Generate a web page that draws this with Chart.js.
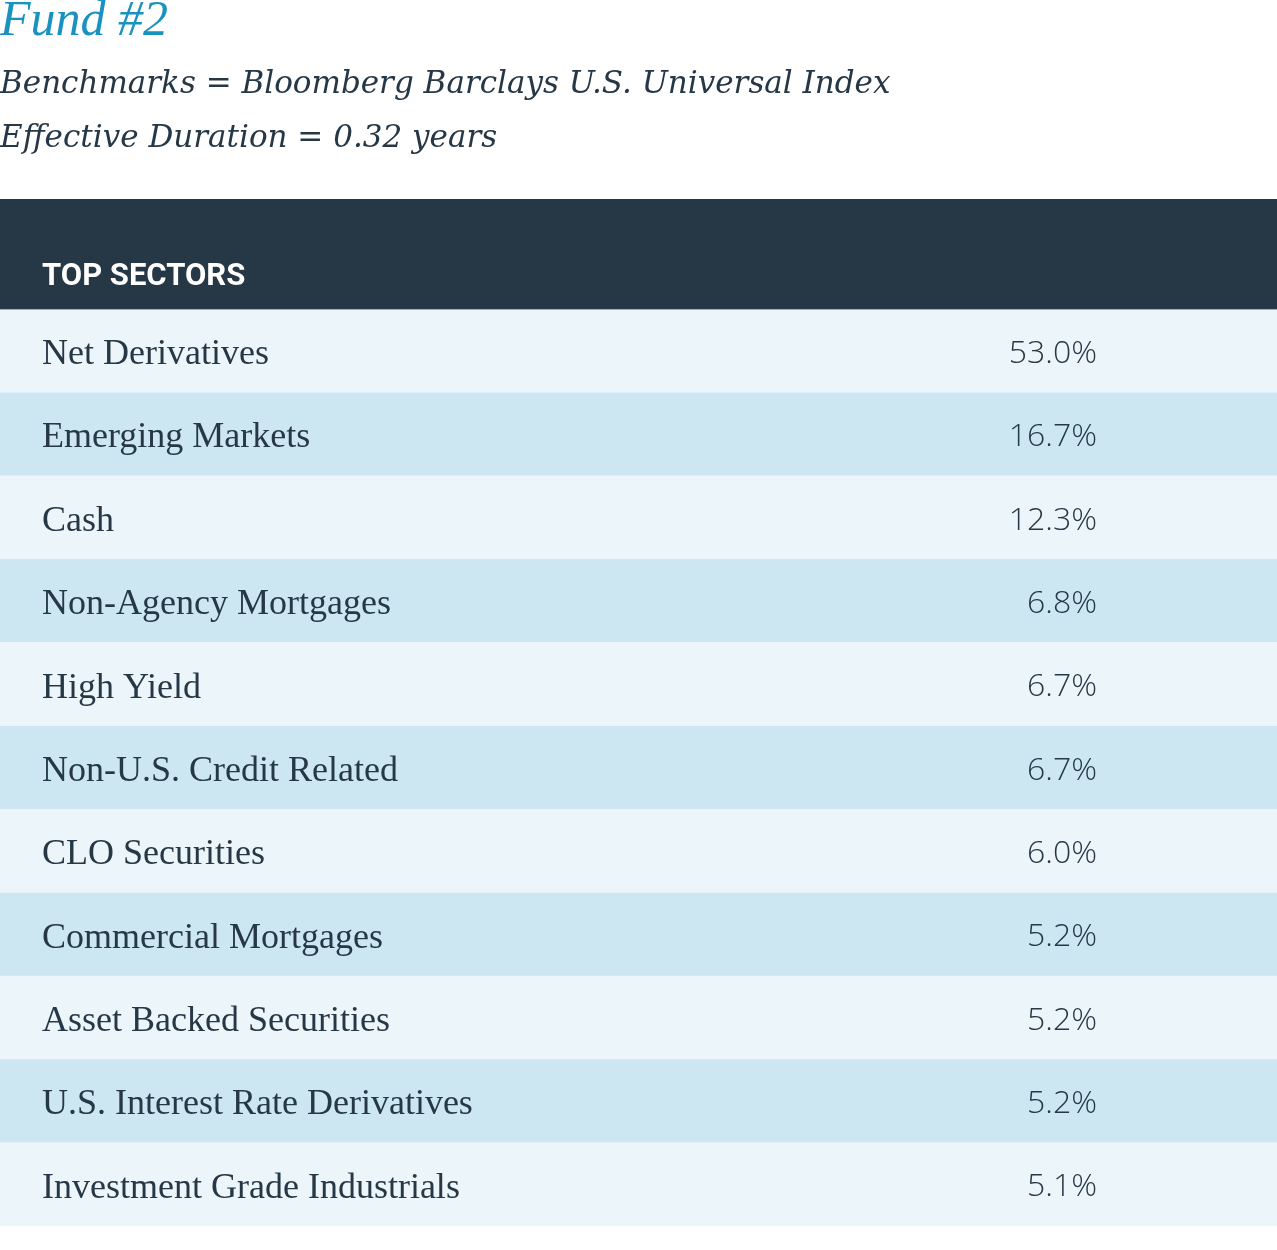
<!DOCTYPE html>
<html><head><meta charset="utf-8">
<script src="https://cdn.jsdelivr.net/npm/chart.js@4.4.1/dist/chart.umd.min.js"></script>
<style>html,body{margin:0;padding:0;background:#fff;overflow:hidden}#wrap{width:1277px;height:1250px;position:relative}</style>
</head><body><div id="wrap"><canvas id="c"></canvas></div>
<script>
const titleText = 'Fund #2';
const subtitleLines = ['Benchmarks = Bloomberg Barclays U.S. Universal Index', 'Effective Duration = 0.32 years'];
const headerText = 'TOP SECTORS';
const sectors = ['Net Derivatives','Emerging Markets','Cash','Non-Agency Mortgages','High Yield','Non-U.S. Credit Related','CLO Securities','Commercial Mortgages','Asset Backed Securities','U.S. Interest Rate Derivatives','Investment Grade Industrials'];
const weights = [53.0,16.7,12.3,6.8,6.7,6.7,6.0,5.2,5.2,5.2,5.1];
const weightLabels = weights.map(v => v.toFixed(1) + '%');

const DARK = '#263746';
const ROW_A = '#ecf5f9';
const ROW_B = '#cce7f2';
const TITLE_COLOR = '#1a92c0';

const tablePlugin = {
  id: 'tableBg',
  beforeDraw(chart) {
    const ctx = chart.ctx;
    const ys = chart.scales.y;
    const W = chart.width;
    ctx.save();
    ctx.textAlign = 'left';
    ctx.textBaseline = 'alphabetic';
    ctx.fillStyle = TITLE_COLOR;
    ctx.font = 'italic 50px "Liberation Serif"';
    ctx.fillText(titleText, 0, 35);
    ctx.fillStyle = DARK;
    ctx.font = 'italic 31px "DejaVu Serif"';
    ctx.fillText(subtitleLines[0], 0, 93);
    ctx.fillText(subtitleLines[1], 0, 147);
    const top = chart.chartArea.top;
    ctx.fillStyle = DARK;
    ctx.fillRect(0, top - 110, W, 110);
    ctx.fillStyle = '#ffffff';
    ctx.font = 'bold 31px Roboto';
    ctx.fillText(headerText, 42, top - 24);
    const h = ys.getPixelForValue(1) - ys.getPixelForValue(0);
    for (let i = 0; i < sectors.length; i++) {
      const c = ys.getPixelForValue(i);
      ctx.fillStyle = i % 2 === 0 ? ROW_A : ROW_B;
      ctx.fillRect(0, c - h / 2, W, h);
    }
    ctx.fillStyle = '#9fb0ba';
    ctx.fillRect(0, top, W, 1);
    ctx.restore();
  }
};

const noPad = (scale) => { scale.paddingTop = 0; scale.paddingBottom = 0; };
const rightFit = (scale) => { scale.paddingTop = 0; scale.paddingBottom = 0; scale.width = 280; };

new Chart(document.getElementById('c'), {
  type: 'bar',
  data: {
    labels: sectors,
    datasets: [{ label: 'Weight', data: weights, backgroundColor: 'rgba(0,0,0,0)', borderWidth: 0 }]
  },
  options: {
    responsive: true,
    maintainAspectRatio: false,
    animation: false,
    indexAxis: 'y',
    layout: { padding: { top: 309, bottom: 24, left: 0, right: 0 } },
    plugins: { legend: { display: false }, tooltip: { enabled: false }, title: { display: false } },
    scales: {
      x: { display: false, min: 0, max: 60 },
      y: {
        type: 'category', position: 'left', labels: sectors, offset: true, afterFit: noPad,
        grid: { display: false, drawTicks: false }, border: { display: false },
        ticks: { mirror: true, padding: 14, labelOffset: 4, color: DARK, font: { family: 'Liberation Serif', size: 36 } }
      },
      y2: {
        type: 'category', position: 'right', labels: weightLabels, offset: true, afterFit: rightFit,
        grid: { display: false, drawTicks: false }, border: { display: false },
        ticks: { mirror: true, padding: 100, labelOffset: 3, color: DARK, font: { family: 'Open Sans', size: 32, weight: '300' } }
      }
    }
  },
  plugins: [tablePlugin]
});
</script></body></html>
